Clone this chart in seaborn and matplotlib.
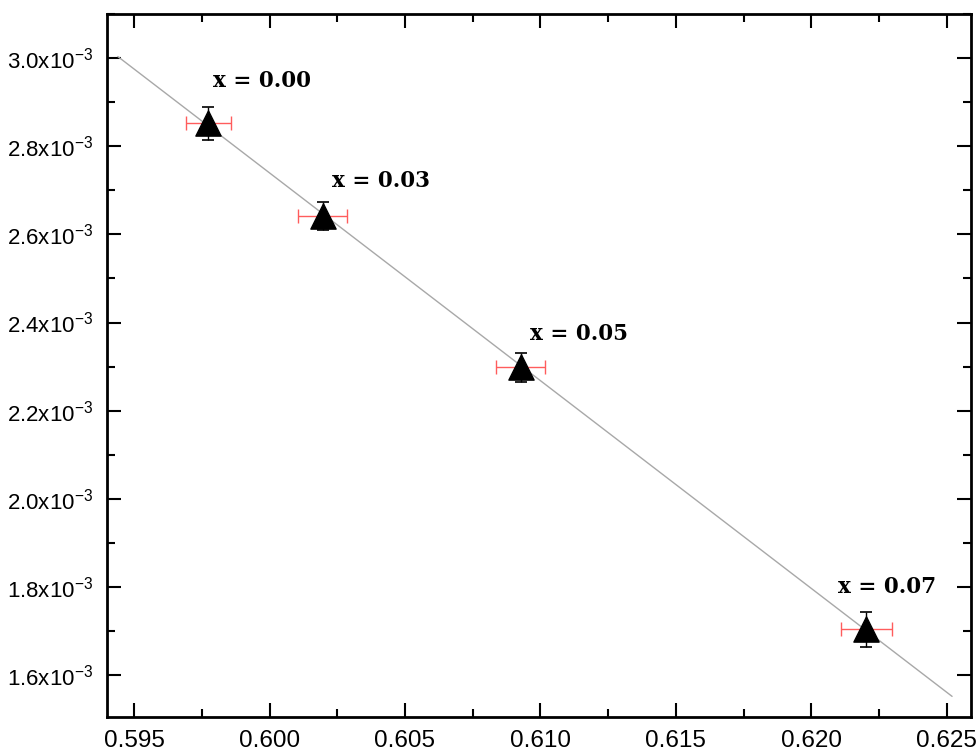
import numpy as np
import pandas as pd
import matplotlib
matplotlib.use("Agg")
import matplotlib.pyplot as plt
import seaborn as sns
from matplotlib.ticker import MultipleLocator, AutoMinorLocator, FuncFormatter

# data
labels = ["x = 0.00", "x = 0.03", "x = 0.05", "x = 0.07"]
x_vals = [0.59774, 0.60197, 0.60928, 0.62203]
y_vals = [2.852e-3, 2.642e-3, 2.298e-3, 1.704e-3]
x_err = [0.00083, 0.00090, 0.00090, 0.00094]
y_err = [0.037e-3, 0.032e-3, 0.033e-3, 0.040e-3]

# label positions (data coords, left / baseline)
label_x = [0.59792, 0.60232, 0.60963, 0.62098]
label_y = [2.934e-3, 2.7075e-3, 2.3605e-3, 1.7868e-3]

# range of the fitted line
fit_range = [0.5944, 0.6252]

df = pd.DataFrame({"x": x_vals, "y": y_vals})

sns.set_style("ticks")
plt.rcParams['font.family'] = ['Liberation Sans', 'DejaVu Sans']
plt.rcParams['mathtext.fontset'] = 'custom'
plt.rcParams['mathtext.rm'] = 'Liberation Sans'
plt.rcParams['mathtext.it'] = 'Liberation Sans'
plt.rcParams['text.color'] = 'black'
plt.rcParams['axes.edgecolor'] = 'black'
plt.rcParams['xtick.color'] = 'black'
plt.rcParams['ytick.color'] = 'black'

fig = plt.figure(figsize=(9.77, 7.55), dpi=100)
ax = fig.add_axes([0.1095, 0.0503, 0.8844, 0.9312])

# linear fit line
coef = np.polyfit(df["x"], df["y"], 1)
fx = np.array(fit_range)
ax.plot(fx, np.polyval(coef, fx), color="#a8a8a8", lw=1.0, zorder=1)

# error bars
ax.errorbar(df["x"], df["y"], xerr=x_err, fmt="none", ecolor="#ff5c5c",
            elinewidth=1.0, capsize=5, capthick=1.0, zorder=2)
ax.errorbar(df["x"], df["y"], yerr=y_err, fmt="none", ecolor="black",
            elinewidth=1.0, capsize=4, capthick=1.2, zorder=2)

# triangles
sns.scatterplot(data=df, x="x", y="y", marker="^", s=330, color="black",
                edgecolor="black", linewidth=1, ax=ax, zorder=3)

for t, lx, ly in zip(labels, label_x, label_y):
    ax.text(lx, ly, t, fontsize=15.5, fontweight="bold", family="DejaVu Serif",
            color="black", ha="left", va="baseline")

ax.set_xlim(0.594, 0.6259)
ax.set_ylim(1.505e-3, 3.1e-3)
ax.xaxis.set_major_locator(MultipleLocator(0.005))
ax.xaxis.set_minor_locator(AutoMinorLocator(2))
ax.yaxis.set_major_locator(MultipleLocator(0.2e-3))
ax.yaxis.set_minor_locator(AutoMinorLocator(2))
ax.xaxis.set_major_formatter(FuncFormatter(lambda v, p: f"{v:.3f}"))
ax.yaxis.set_major_formatter(FuncFormatter(lambda v, p: f"{v*1e3:.1f}x10$^{{-3}}$"))

ax.tick_params(which="both", direction="in", top=True, right=True, width=1.5,
               colors="black")
ax.tick_params(axis="x", labelsize=17.5, pad=9)
ax.tick_params(axis="y", labelsize=16, pad=10)
ax.tick_params(which="major", length=10)
ax.tick_params(which="minor", length=5.5)
ax.set_xlabel("")
ax.set_ylabel("")
for s in ax.spines.values():
    s.set_linewidth(2)
    s.set_color("black")
    s.set_visible(True)

fig.savefig("out.png", dpi=100)
